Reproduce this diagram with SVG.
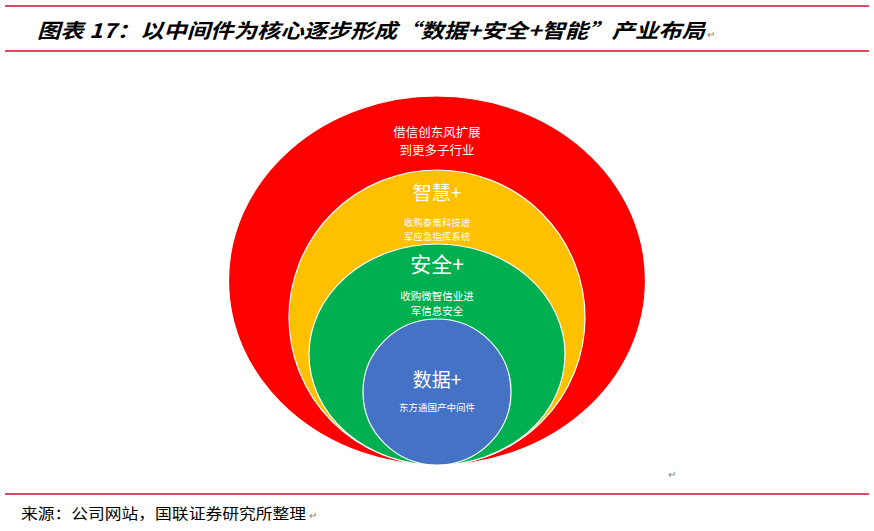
<svg xmlns="http://www.w3.org/2000/svg" width="874" height="531" viewBox="0 0 874 531">
<style>
.rule{stroke:#C8102E;stroke-width:1.5}
.ring{stroke:#ffffff;stroke-width:1.2}
.t{font-family:"Noto Sans CJK SC","Liberation Sans",sans-serif;fill:#ffffff;text-anchor:middle}
.mark{font-family:"Liberation Sans",sans-serif;fill:#808080;font-size:10px}
</style>
<rect width="874" height="531" fill="#ffffff"/>
<line class="rule" x1="5" y1="6" x2="869" y2="6"/>
<line class="rule" x1="5" y1="51" x2="869" y2="51"/>
<line class="rule" x1="5" y1="494" x2="869" y2="494"/>
<text x="37" y="38" font-family="Noto Sans CJK SC,Liberation Sans,sans-serif" font-size="20" font-weight="bold" font-style="italic" fill="#000" textLength="668" lengthAdjust="spacingAndGlyphs">图表 17：以中间件为核心逐步形成“数据+安全+智能”产业布局</text>
<text class="mark" x="707" y="38">↵</text>
<g id="node-red">
<ellipse class="ring" cx="437" cy="280.5" rx="208.5" ry="184.5" fill="#FF0000"/>
<text class="t" x="437" y="137" font-size="12.5">借信创东风扩展</text>
<text class="t" x="437" y="155" font-size="12.5">到更多子行业</text>
</g>
<g id="node-yellow">
<ellipse class="ring" cx="437" cy="317.5" rx="148" ry="147.5" fill="#FFC000"/>
<text class="t" x="437" y="200" font-size="19">智慧+</text>
<text class="t" x="437" y="226" font-size="9.5">收购泰策科技进</text>
<text class="t" x="437" y="240" font-size="9.5">军应急指挥系统</text>
</g>
<g id="node-green">
<ellipse class="ring" cx="437" cy="354.5" rx="128" ry="110.5" fill="#00B050"/>
<text class="t" x="437" y="272" font-size="21">安全+</text>
<text class="t" x="437" y="300" font-size="10.5">收购微智信业进</text>
<text class="t" x="437" y="315" font-size="10.5">军信息安全</text>
</g>
<g id="node-blue">
<ellipse class="ring" cx="437" cy="392" rx="74" ry="73" fill="#4472C4"/>
<text class="t" x="437" y="387" font-size="19">数据+</text>
<text class="t" x="437" y="411" font-size="9.5">东方通国产中间件</text>
</g>
<g id="connectors"></g>
<text class="mark" x="668" y="478">↵</text>
<text x="21" y="519" font-family="Noto Sans CJK SC,Liberation Sans,sans-serif" font-size="15" fill="#000" textLength="285" lengthAdjust="spacingAndGlyphs">来源：公司网站，国联证券研究所整理</text>
<text class="mark" x="309" y="519">↵</text>
</svg>
